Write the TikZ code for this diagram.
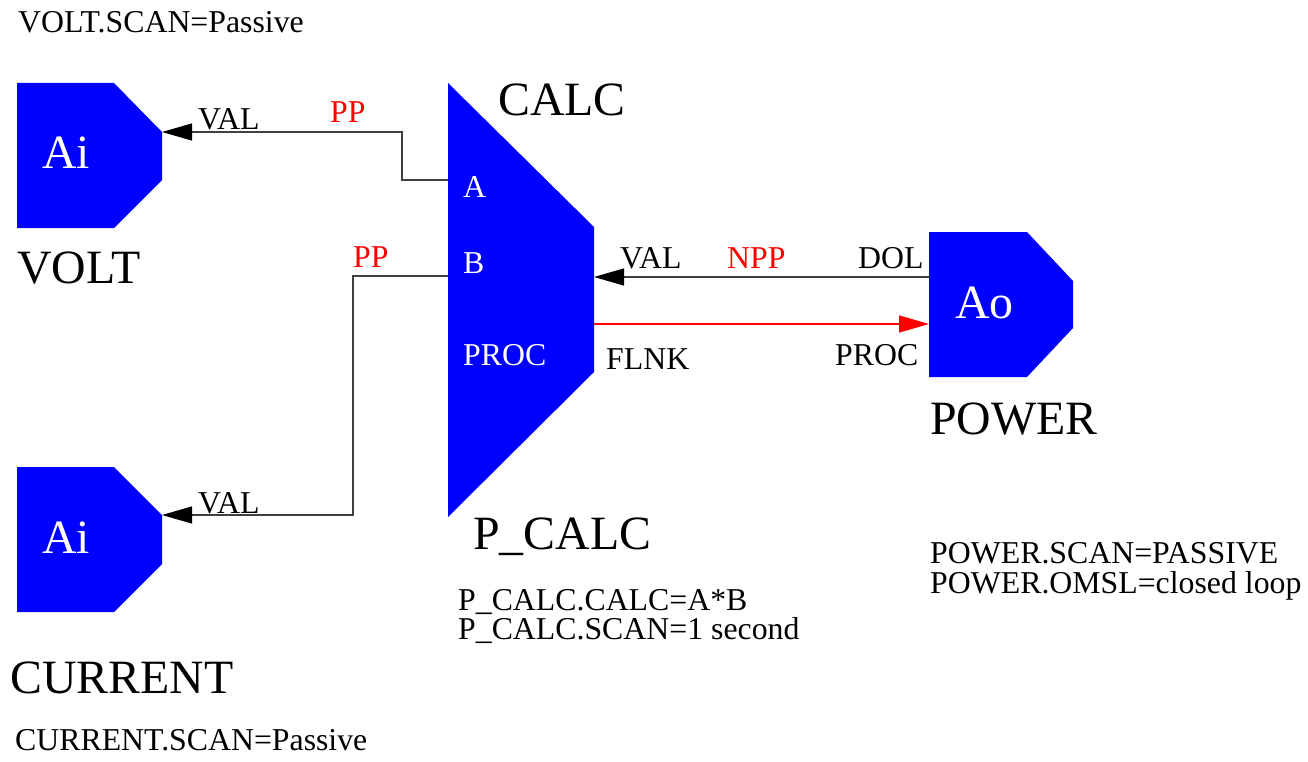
\documentclass[tikz,border=0pt]{standalone}
\usepackage{fontspec}
\setmainfont{Liberation Serif}
\usetikzlibrary{arrows.meta}
\begin{document}
\begin{tikzpicture}[x=1pt,y=-1pt,
  blk/.style={fill=blue,draw=none},
  sm/.style={font=\fontsize{31.8}{36}\selectfont, inner sep=0pt, anchor=base west},
  lg/.style={font=\fontsize{47.8}{54}\selectfont, inner sep=0pt, anchor=base west},
  wire/.style={draw=black!75, line width=1.3pt},
  flnk/.style={draw=red, line width=1.3pt},
  blktip/.style={-{Triangle[length=30pt,width=17pt,color=black]}},
  redtip/.style={-{Triangle[length=30pt,width=17pt,color=red]}},
  white/.style={text=white},
  redlbl/.style={text=red}]
\useasboundingbox (0,0) rectangle (1308,762);

% blocks
\path[blk] (17,83) -- (114,83) -- (162,132) -- (162,180) -- (114,228) -- (17,228) -- cycle;
\path[blk] (17,467) -- (114,467) -- (162,515) -- (162,564) -- (114,612) -- (17,612) -- cycle;
\path[blk] (448,83) -- (594,227) -- (594,372) -- (448,517) -- cycle;
\path[blk] (929,232) -- (1027,232) -- (1073,281) -- (1073,328) -- (1027,377) -- (929,377) -- cycle;

% port coordinates
\coordinate (voltval) at (162,132);
\coordinate (curval) at (162,515);
\coordinate (calcA) at (448,180);
\coordinate (calcB) at (448,276);
\coordinate (calcval) at (594,277);
\coordinate (calcflnk) at (594,324);
\coordinate (powdol) at (929,277);
\coordinate (powproc) at (929,324);

% block texts
\node[lg,white] (ai1) at (42,169) {Ai};
\node[lg,white] (ai2) at (42,553) {Ai};
\node[lg,white] (ao) at (955,318) {Ao};
\node[sm,white] (pa) at (463,197) {A};
\node[sm,white] (pb) at (463,273) {B};
\node[sm,white] (pproc) at (463,365) {PROC};

% names
\node[lg] (voltname) at (17,283) {VOLT};
\node[lg] (curname) at (10,693) {CURRENT};
\node[lg] (calcname) at (498,116) {CALC};
\node[lg] (pcalcname) at (473,549) {P\_CALC};
\node[lg] (powname) at (930,434) {POWER};

% notes
\node[sm] (n1) at (18,33) {VOLT.SCAN=Passive};
\node[sm] (n2) at (15,750) {CURRENT.SCAN=Passive};
\node[sm] (n3) at (458,610) {P\_CALC.CALC=A*B};
\node[sm] (n4) at (458,639) {P\_CALC.SCAN=1 second};
\node[sm] (n5) at (930,563) {POWER.SCAN=PASSIVE};
\node[sm] (n6) at (930,593) {POWER.OMSL=closed loop};

% connectors
\draw[wire,blktip] (calcA) -| (402,132) -- (voltval);
\draw[wire,blktip] (calcB) -| (353,515) -- (curval);
\draw[wire,blktip] (powdol) -- (calcval);
\draw[flnk,redtip] (calcflnk) -- (powproc);

% connector labels
\node[sm] (l1) at (198,130) {VAL};
\node[sm,redlbl] (l2) at (330,123) {PP};
\node[sm,redlbl] (l3) at (353,267) {PP};
\node[sm] (l4) at (198,513) {VAL};
\node[sm] (l5) at (620,268) {VAL};
\node[sm,redlbl] (l6) at (727,268) {NPP};
\node[sm] (l7) at (858,268) {DOL};
\node[sm] (l8) at (606,369) {FLNK};
\node[sm] (l9) at (835,365) {PROC};
\end{tikzpicture}
\end{document}
